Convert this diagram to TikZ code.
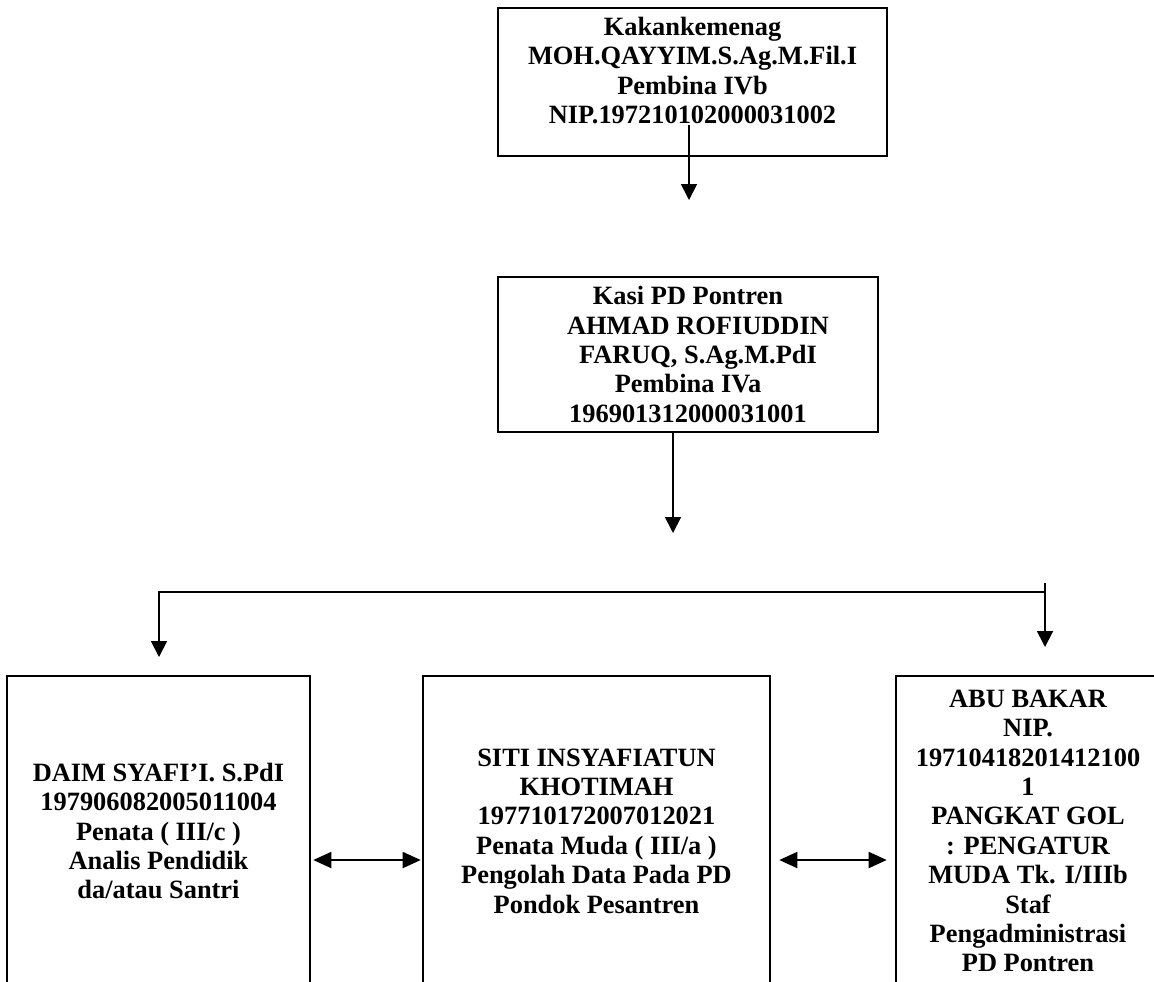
\documentclass[tikz,border=0pt]{standalone}
\usepackage{fontspec}
\setmainfont{Liberation Serif}
\usetikzlibrary{arrows.meta}

\begin{document}
\begin{tikzpicture}[x=0.5pt,y=-0.5pt,
  box/.style={draw,line width=1.3pt,align=center,inner sep=0pt,
    font=\fontsize{13.2}{14.7}\selectfont\bfseries},
  link/.style={line width=0.9pt,-{Triangle[width=8pt,length=8pt]}},
  both/.style={line width=0.9pt,{Triangle[width=8pt,length=9pt]}-{Triangle[width=8pt,length=9pt]}}]
  \useasboundingbox (0,0) rectangle (1154,981);
  \clip (0,0) rectangle (1154,981);
  \node[box,minimum width=194.5pt,minimum height=74pt] (kakan) at (692.5,82)
    {Kakankemenag\\MOH.QAYYIM.S.Ag.M.Fil.I\\Pembina IVb\\NIP.197210102000031002\\[-3pt]\mbox{}};
  \node[box,minimum width=190pt,minimum height=77.5pt] (kasi) at (688,354.5)
    {Kasi PD Pontren\\\hspace*{10pt}AHMAD ROFIUDDIN\\\hspace*{10pt}FARUQ, S.Ag.M.PdI\\Pembina IVa\hspace*{11pt}\\196901312000031001};
  \node[box,minimum width=151.5pt,minimum height=155pt] (daim) at (158.5,831)
    {DAIM SYAFI’I. S.PdI\\197906082005011004\\Penata ( III/c )\\Analis Pendidik\\da/atau Santri};
  \node[box,minimum width=173.5pt,minimum height=155pt] (siti) at (596.5,831)
    {SITI INSYAFIATUN\\KHOTIMAH\\197710172007012021\\Penata Muda ( III/a )\\Pengolah Data Pada PD\\Pondok Pesantren};
  \node[box,minimum width=132pt,minimum height=155pt] (abu) at (1028,831)
    {ABU BAKAR\\NIP.\\19710418201412100\\1\\PANGKAT GOL\\: PENGATUR\\MUDA Tk. I/IIIb\\Staf\\Pengadministrasi\\PD Pontren};
  \coordinate (kakan-out) at (689,125);
  \coordinate (kasi-in) at (689,200);
  \coordinate (kasi-out) at (673,433);
  \coordinate (kasi-end) at (673,533);
  \coordinate (bar-l) at (159,592);
  \coordinate (bar-r) at (1045,592);
  \coordinate (bar-top) at (1045,583);
  \coordinate (daim-in) at (159,657);
  \coordinate (abu-in) at (1045,647);
  \draw[link] (kakan-out) -- (kasi-in);
  \draw[link] (kasi-out) -- (kasi-end);
  \draw[link] (bar-r) -- (bar-l) -- (daim-in);
  \draw[link] (bar-top) -- (abu-in);
  \draw[both] ([shift={(2,29)}]daim.east) -- ([shift={(-1,29)}]siti.west);
  \draw[both] ([shift={(8,29)}]siti.east) -- ([shift={(-8,29)}]abu.west);
\end{tikzpicture}
\end{document}
